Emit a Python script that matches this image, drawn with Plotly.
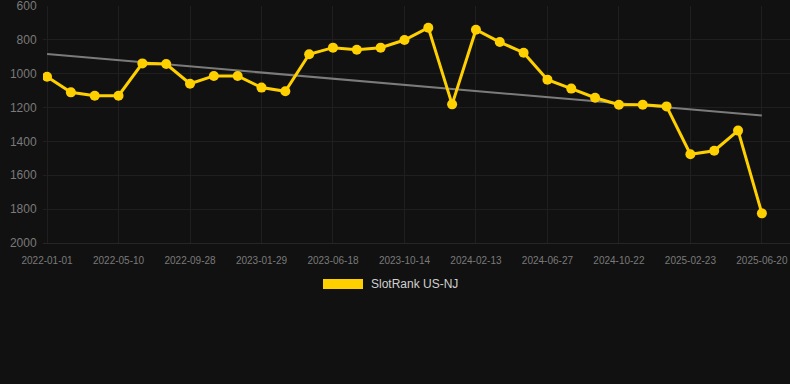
import numpy as np
import plotly.graph_objects as go

dates = [
    "2022-01-01", "2022-02-13", "2022-03-28", "2022-05-10",
    "2022-06-26", "2022-08-12", "2022-09-28",
    "2022-11-08", "2022-12-19", "2023-01-29",
    "2023-03-16", "2023-05-02", "2023-06-18",
    "2023-07-27", "2023-09-05", "2023-10-14",
    "2023-11-24", "2024-01-03", "2024-02-13",
    "2024-03-29", "2024-05-13", "2024-06-27",
    "2024-08-04", "2024-09-13", "2024-10-22",
    "2024-12-03", "2025-01-13", "2025-02-23",
    "2025-04-03", "2025-05-12", "2025-06-20",
]
ranks = [
    1018, 1110, 1130, 1130, 939, 943, 1059, 1013, 1013, 1082, 1104,
    885, 846, 858, 846, 801, 728, 1181, 740, 813, 876, 1035,
    1088, 1142, 1183, 1183, 1193, 1476, 1455, 1336, 1825,
]
tick_labels = dates[::3]
y_ticks = [600, 800, 1000, 1200, 1400, 1600, 1800, 2000]
series_name = "SlotRank US-NJ"

idx = np.arange(len(ranks))
slope, intercept = np.polyfit(idx, ranks, 1)
trend = (slope * idx + intercept).tolist()

BG = "#111111"
GOLD = "#FFD000"
GRID = "#1f1f1f"
TICK = "#7a7a7a"
FONT = "Liberation Sans, Arial, sans-serif"

fig = go.Figure()
fig.add_trace(go.Scatter(
    x=[dates[0], dates[-1]], y=[trend[0], trend[-1]], mode="lines",
    line=dict(color="#7b7b7b", width=2), showlegend=False, hoverinfo="skip",
))
fig.add_trace(go.Scatter(
    x=dates, y=ranks, mode="lines+markers", name=series_name,
    line=dict(color=GOLD, width=3),
    marker=dict(color=GOLD, size=10),
    showlegend=False,
))

fig.update_layout(
    width=790, height=384,
    paper_bgcolor=BG, plot_bgcolor=BG,
    margin=dict(l=43, r=0, t=6, b=141),
    font=dict(family=FONT, color=TICK),
    xaxis=dict(
        type="category", categoryorder="array", categoryarray=dates,
        range=[-0.17, 31.18],
        tickmode="array", tickvals=tick_labels, ticktext=tick_labels,
        tickfont=dict(size=10, color=TICK),
        showgrid=True, gridcolor=GRID, gridwidth=1,
        zeroline=False, showline=True, linecolor="#262626",
        ticks="outside", ticklen=8, tickcolor=BG,
        ticklabeloverflow="allow",
    ),
    yaxis=dict(
        range=[2000.01, 599.99], tickmode="array", tickvals=y_ticks,
        tickfont=dict(size=12, color=TICK),
        showgrid=True, gridcolor=GRID, gridwidth=1, zeroline=False,
        ticks="outside", ticklen=3, tickcolor=BG,
        ticklabeloverflow="allow",
    ),
    showlegend=False,
)

# legend drawn as swatch + label
fig.add_shape(type="rect", xref="paper", yref="paper",
              x0=(323 - 43) / 747, x1=(363 - 43) / 747,
              y0=(384 - 141 - 289) / 237, y1=(384 - 141 - 279) / 237,
              fillcolor=GOLD, line=dict(width=0))
fig.add_annotation(xref="paper", yref="paper",
                   x=(369 - 43) / 747, y=(384 - 141 - 284) / 237,
                   xanchor="left", yanchor="middle", showarrow=False,
                   text=series_name, font=dict(size=12, color="#d0d0d0", family=FONT))

fig.write_html("out.html", config={"displayModeBar": False})
with open("out.html", "r", encoding="utf-8") as f:
    html = f.read()
html = html.replace("<head>", "<head><style>html,body{margin:0;padding:0;background:#111111;}</style>", 1)
with open("out.html", "w", encoding="utf-8") as f:
    f.write(html)
